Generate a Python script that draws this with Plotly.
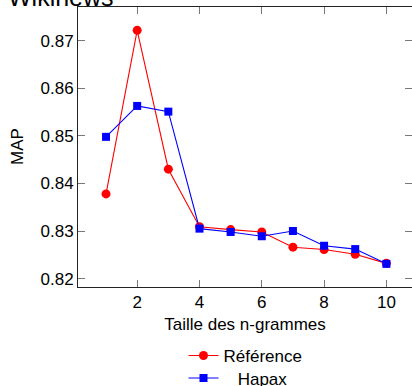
import plotly.graph_objects as go

n_sizes = [1, 2, 3, 4, 5, 6, 7, 8, 9, 10]
reference_map = [0.8378, 0.8722, 0.8430, 0.8309, 0.8303, 0.8298, 0.8266, 0.8261, 0.8251, 0.8232]
hapax_map = [0.8498, 0.8563, 0.8551, 0.8305, 0.8298, 0.8289, 0.8300, 0.8269, 0.8262, 0.8231]
x_ticks = [2, 4, 6, 8, 10]
y_ticks = [0.82, 0.83, 0.84, 0.85, 0.86, 0.87]

FONT = "Liberation Sans, Arial, Helvetica, sans-serif"
W, H = 412, 386
ML, MR, MT, MB = 78, 0, 7, 99

fig = go.Figure()
fig.add_trace(go.Scatter(
    x=n_sizes, y=reference_map, name="Référence", mode="lines+markers",
    line=dict(color="#ff0000", width=1.1),
    marker=dict(symbol="circle", size=9, color="#ff0000"),
    legend="legend",
))
fig.add_trace(go.Scatter(
    x=n_sizes, y=hapax_map, name="\u00a0\u00a0\u00a0Hapax", mode="lines+markers",
    line=dict(color="#0000ff", width=1.1),
    marker=dict(symbol="square", size=8, color="#0000ff"),
    legend="legend2",
))
# invisible helper so the right-hand tick axis is drawn
fig.add_trace(go.Scatter(
    x=n_sizes, y=hapax_map, yaxis="y2", mode="lines", opacity=0,
    showlegend=False, hoverinfo="skip",
))

yr = [0.81823, 0.8771]
leg_common = dict(
    xanchor="left", yanchor="top", xref="container", yref="container",
    font=dict(size=17), bgcolor="rgba(0,0,0,0)", borderwidth=0,
)
fig.update_layout(
    width=W, height=H, autosize=False,
    margin=dict(l=ML, r=MR, t=MT, b=MB, pad=0, autoexpand=False),
    plot_bgcolor="white", paper_bgcolor="white",
    font=dict(family=FONT, size=17, color="black"),
    showlegend=True,
    legend=dict(x=183.5 / W, y=0.1245, **leg_common),
    legend2=dict(x=183.5 / W, y=0.066, **leg_common),
    xaxis=dict(
        range=[0.1, 0.1 + (W - ML) / 31.15],
        tickvals=x_ticks, ticks="inside", ticklen=7, tickwidth=1, tickcolor="#777",
        showline=True, linecolor="#222", linewidth=1, mirror="ticks",
        showgrid=False, zeroline=False,
        title=dict(text="Taille des n-grammes", font=dict(size=17), standoff=6),
        tickfont=dict(size=17),
    ),
    yaxis=dict(
        range=yr,
        tickvals=y_ticks, tickformat=".2f", ticks="inside", ticklen=7, tickwidth=1, tickcolor="#777",
        showline=True, linecolor="#222", linewidth=1, mirror=False,
        showgrid=False, zeroline=False,
        tickfont=dict(size=17),
    ),
    yaxis2=dict(
        range=yr, overlaying="y", side="right",
        tickvals=y_ticks, ticks="inside", ticklen=7, tickwidth=1, tickcolor="#777",
        showticklabels=False, showline=False, showgrid=False, zeroline=False,
    ),
    annotations=[
        dict(
            text="Wikinews", xref="paper", yref="paper", x=0, y=1,
            xanchor="left", yanchor="bottom", xshift=-72, yshift=-6,
            showarrow=False, font=dict(size=25, family=FONT),
        ),
        dict(
            text="MAP", xref="paper", yref="paper", x=0, y=0.5,
            xanchor="center", yanchor="middle", xshift=-61, textangle=-90,
            showarrow=False, font=dict(size=17, family=FONT),
        ),
    ],
)

fig.write_html("out.html")
